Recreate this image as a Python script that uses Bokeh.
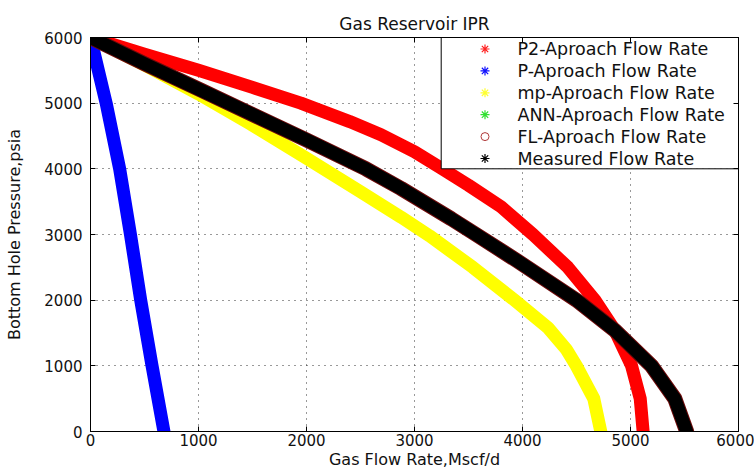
from bokeh.plotting import figure
from bokeh.models import Range1d, FixedTicker, LinearAxis
from bokeh.core.properties import value
from bokeh.embed import file_html
from bokeh.resources import INLINE

# ---------------- data ----------------
x_ticks = [0, 1000, 2000, 3000, 4000, 5000, 6000]
y_ticks = [0, 1000, 2000, 3000, 4000, 5000, 6000]

# P2-Approach (red)
q_p2 = [0, 500, 1000, 1500, 1948, 2400, 2690, 3000, 3256, 3500, 3803, 4097, 4420, 4670, 4855, 5010, 5090, 5117]
p_p2 = [6000, 5745, 5500, 5240, 5000, 4720, 4520, 4260, 4000, 3750, 3420, 3000, 2500, 2000, 1540, 1000, 500, 0]

# P-Approach (blue)
q_p = [0, 145, 270, 370, 465, 570, 680]
p_p = [6000, 5000, 4000, 3000, 2000, 1000, 0]

# mp-Approach (yellow)
q_mp = [0, 500, 1000, 1484, 2000, 2500, 2876, 3139, 3540, 3926, 4236, 4406, 4499, 4660, 4725]
p_mp = [6000, 5580, 5140, 4680, 4160, 3650, 3264, 2980, 2500, 2000, 1580, 1250, 1000, 500, 0]

# ANN-Approach (green, hidden under measured)
q_ann = [0, 500, 1020, 1484, 2000, 2550, 2876, 3340, 3570, 3950, 4500, 4855, 5195, 5410, 5520]
p_ann = [6000, 5600, 5200, 4840, 4440, 4000, 3700, 3240, 3000, 2600, 2000, 1540, 1000, 500, 0]

# FL-Approach (red circles, under measured)
q_fl = [0, 500, 1020, 1484, 2000, 2550, 2876, 3340, 3570, 3950, 4500, 4855, 5195, 5410, 5520]
p_fl = [6000, 5600, 5200, 4840, 4440, 4000, 3700, 3240, 3000, 2600, 2000, 1540, 1000, 500, 0]

# Measured (black)
q_meas = [0, 500, 1020, 1484, 2000, 2550, 2876, 3340, 3570, 3950, 4500, 4855, 5195, 5410, 5520]
p_meas = [6000, 5600, 5200, 4840, 4440, 4000, 3700, 3240, 3000, 2600, 2000, 1540, 1000, 500, 0]

legend_labels = ["P2-Aproach Flow Rate", "P-Aproach Flow Rate", "mp-Aproach Flow Rate",
                 "ANN-Aproach Flow Rate", "FL-Aproach Flow Rate", "Measured Flow Rate"]

# ---------------- figure ----------------
FONT = "DejaVu Sans"
TXT = "#111111"
X0, X1, Y0, Y1 = 0, 6000, 0, 6000
W, H = 754, 471
BL, BR, BT, BB = 90, 16, 37, 40
FW, FH = W - BL - BR, H - BT - BB  # frame size in px

p = figure(width=W, height=H, output_backend="svg", toolbar_location=None,
           x_range=Range1d(X0, X1), y_range=Range1d(Y0, Y1),
           min_border_left=BL, min_border_right=BR, min_border_top=BT, min_border_bottom=BB,
           title="Gas Reservoir IPR")
p.background_fill_color = "white"
p.border_fill_color = "white"
p.outline_line_color = "black"
p.outline_line_width = 1

p.title.align = "center"
p.title.text_font = FONT
p.title.text_font_size = "17px"
p.title.text_font_style = "normal"
p.title.text_color = TXT
p.title.standoff = 8

for ax, ticks in ((p.xaxis, x_ticks), (p.yaxis, y_ticks)):
    ax.ticker = FixedTicker(ticks=ticks)
    ax.major_tick_in = 5
    ax.major_tick_out = 0
    ax.minor_tick_line_color = None
    ax.axis_line_color = "black"
    ax.major_tick_line_color = "black"
    ax.major_label_text_font = FONT
    ax.major_label_text_font_size = "15px"
    ax.major_label_text_color = TXT
    ax.axis_label_text_font = FONT
    ax.axis_label_text_font_size = "16px"
    ax.axis_label_text_font_style = "normal"
    ax.axis_label_text_color = TXT

p.xaxis.axis_label = "Gas Flow Rate,Mscf/d"
p.yaxis.axis_label = "Bottom Hole Pressure,psia"
p.xaxis.major_label_standoff = 2
p.xaxis.axis_label_standoff = 1
p.yaxis.major_label_standoff = 8
p.yaxis.axis_label_standoff = 17

for loc, ticks in (("above", x_ticks), ("right", y_ticks)):
    ax = LinearAxis(ticker=FixedTicker(ticks=ticks), major_tick_in=5, major_tick_out=0,
                    minor_tick_line_color=None, axis_line_color="black",
                    major_label_text_color=None, major_label_text_font_size="0px",
                    major_label_standoff=0)
    p.add_layout(ax, loc)

p.xgrid.ticker = FixedTicker(ticks=x_ticks)
p.ygrid.ticker = FixedTicker(ticks=y_ticks)
p.grid.grid_line_color = "#333333"
p.grid.grid_line_dash = "1 5"
p.grid.grid_line_width = 1

# ---------------- curves ----------------
LW = 13
p.line(q_p2, p_p2, line_color="#ff0000", line_width=LW, line_cap="round", line_join="round")
p.line(q_p, p_p, line_color="#0000ff", line_width=LW, line_cap="round", line_join="round")
p.line(q_mp, p_mp, line_color="#ffff00", line_width=LW, line_cap="round", line_join="round")
p.line(q_ann, p_ann, line_color="#00ff00", line_width=LW - 2, line_cap="round", line_join="round")
p.line(q_fl, p_fl, line_color="#6e0a0a", line_width=LW + 2, line_cap="round", line_join="round")
p.line(q_meas, p_meas, line_color="#000000", line_width=LW, line_cap="round", line_join="round")

# ---------------- legend (drawn like MATLAB's box) ----------------
def qx(px):   # frame px from left -> data x
    return X0 + px * (X1 - X0) / FW

def py(px):   # frame px from top -> data y
    return Y1 - px * (Y1 - Y0) / FH

box_left = qx(350.7)
box_bottom = py(131.3)
p.quad(left=[box_left], right=[X1], bottom=[box_bottom], top=[Y1],
       fill_color="white", line_color="black", line_width=1)

row_y = [py(11.5 + 21.9 * i) for i in range(6)]
mk_x = qx(394.5)
txt_x = qx(427.0)
mk_colors = ["#ff2020", "#1010ff", "#ffff30", "#30e030", None, "#000000"]
for i in range(6):
    if i == 4:
        p.scatter([mk_x], [row_y[i]], marker="circle", size=8, fill_color=None,
                  line_color="#b03a3a", line_width=1)
    else:
        p.scatter([mk_x], [row_y[i]], marker="asterisk", size=9,
                  line_color=mk_colors[i], line_width=1.2)
p.text(x=[txt_x] * 6, y=row_y, text=legend_labels, text_font=value(FONT),
       text_font_size="17.5px", text_color=TXT, text_baseline="middle", text_align="left")

open("out.html", "w").write(file_html(p, INLINE))
